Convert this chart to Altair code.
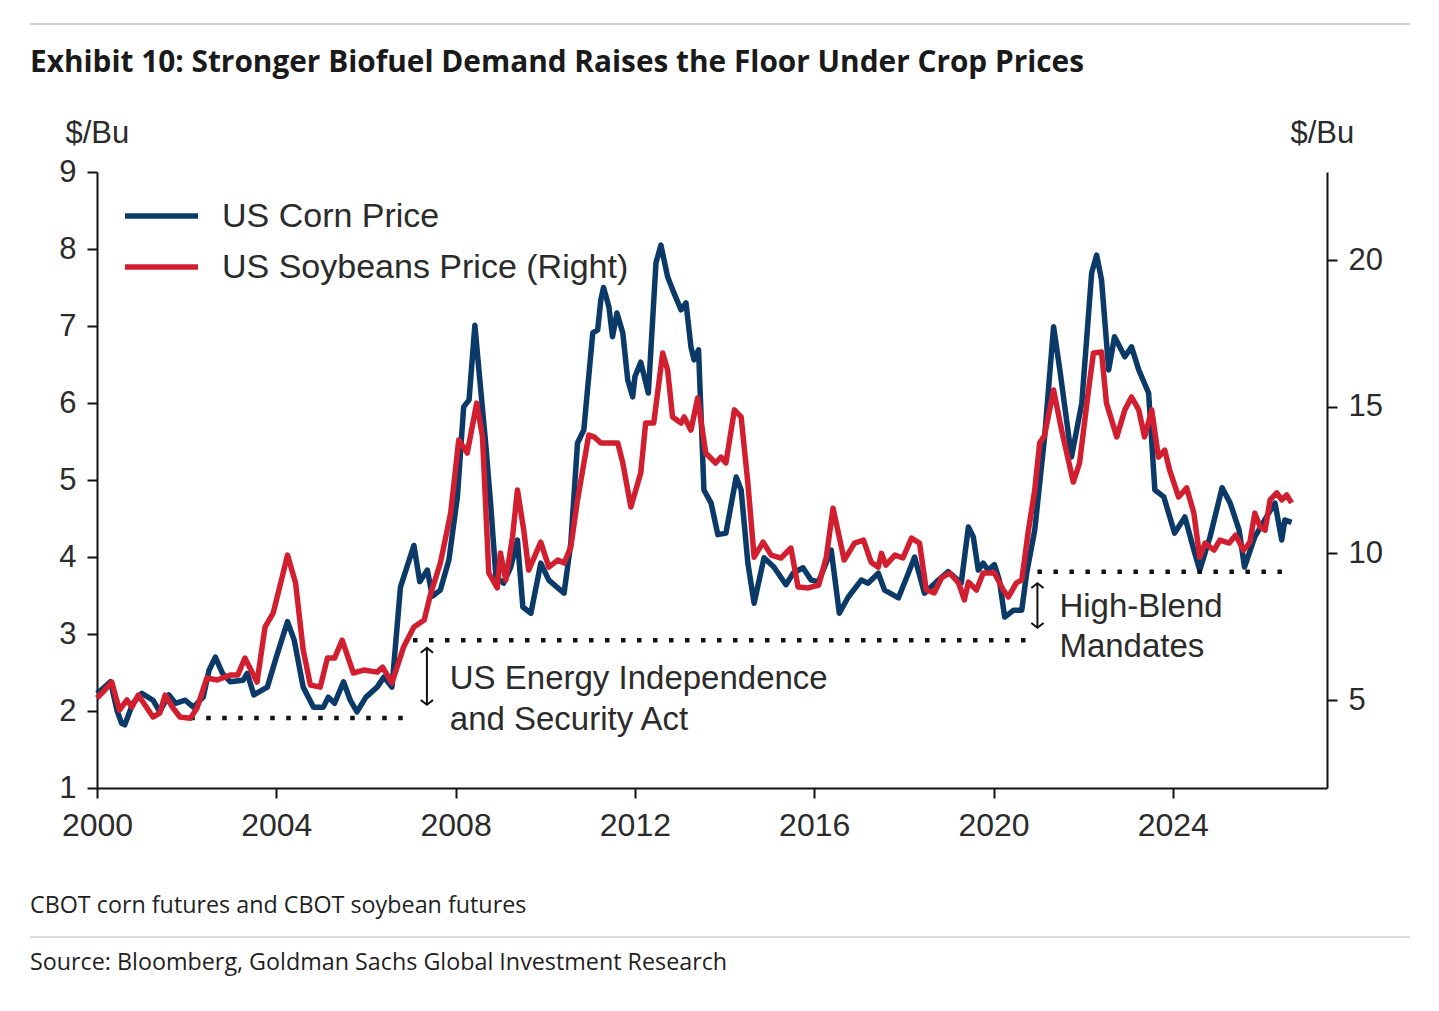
import altair as alt
import pandas as pd

# ---------------- data ----------------
corn_years = [2000.0, 2000.15, 2000.3, 2000.45, 2000.55, 2000.62, 2000.8, 2001.0, 2001.25, 2001.4,
              2001.6, 2001.75, 2001.97, 2002.15, 2002.37, 2002.5, 2002.64, 2002.8, 2002.97, 2003.26,
              2003.35, 2003.5, 2003.8, 2004.0, 2004.25, 2004.4, 2004.6, 2004.83, 2005.05, 2005.16,
              2005.3, 2005.5, 2005.65, 2005.8, 2006.0, 2006.25, 2006.4, 2006.58, 2006.77, 2007.07,
              2007.2, 2007.37, 2007.48, 2007.66, 2007.85, 2008.04, 2008.18, 2008.3, 2008.43, 2008.52,
              2008.67, 2008.78, 2008.9, 2009.07, 2009.23, 2009.38, 2009.5, 2009.68, 2009.9, 2010.08,
              2010.28, 2010.42, 2010.57, 2010.72, 2010.86, 2011.06, 2011.17, 2011.24, 2011.3, 2011.42,
              2011.5, 2011.6, 2011.73, 2011.84, 2011.95, 2012.0, 2012.13, 2012.3, 2012.47, 2012.58,
              2012.73, 2012.87, 2013.03, 2013.14, 2013.25, 2013.32, 2013.42, 2013.54, 2013.7, 2013.85,
              2014.03, 2014.26, 2014.37, 2014.52, 2014.66, 2014.88, 2015.1, 2015.37, 2015.53, 2015.75,
              2015.93, 2016.1, 2016.38, 2016.56, 2016.76, 2017.05, 2017.2, 2017.43, 2017.57, 2017.88,
              2018.1, 2018.24, 2018.46, 2018.77, 2018.99, 2019.28, 2019.44, 2019.55, 2019.66, 2019.77,
              2019.88, 2020.02, 2020.13, 2020.25, 2020.45, 2020.63, 2020.74, 2020.92, 2021.14, 2021.34,
              2021.48, 2021.74, 2021.97, 2022.19, 2022.3, 2022.41, 2022.57, 2022.7, 2022.93, 2023.08,
              2023.24, 2023.46, 2023.6, 2023.8, 2024.04, 2024.27, 2024.47, 2024.6, 2024.83, 2025.1,
              2025.28, 2025.48, 2025.6, 2025.83, 2026.14, 2026.28, 2026.43, 2026.5, 2026.65]
corn_values = [2.23, 2.30, 2.38, 2.00, 1.84, 1.82, 2.10, 2.23, 2.14, 1.99,
               2.21, 2.10, 2.14, 2.05, 2.18, 2.53, 2.70, 2.49, 2.38, 2.40,
               2.49, 2.21, 2.31, 2.70, 3.16, 2.92, 2.31, 2.05, 2.05, 2.18,
               2.10, 2.38, 2.14, 1.99, 2.18, 2.31, 2.44, 2.31, 3.61, 4.15,
               3.68, 3.83, 3.49, 3.57, 3.96, 4.78, 5.95, 6.04, 7.01, 6.43,
               5.48, 4.70, 3.74, 3.66, 3.87, 4.22, 3.35, 3.27, 3.92, 3.70,
               3.60, 3.53, 4.18, 5.48, 5.65, 6.91, 6.95, 7.34, 7.50, 7.25,
               6.86, 7.17, 6.91, 6.30, 6.08, 6.34, 6.53, 6.13, 7.82, 8.05,
               7.64, 7.43, 7.21, 7.30, 6.73, 6.56, 6.69, 4.87, 4.70, 4.29,
               4.31, 5.04, 4.87, 3.92, 3.40, 3.99, 3.87, 3.64, 3.79, 3.86,
               3.70, 3.68, 4.09, 3.27, 3.48, 3.70, 3.66, 3.79, 3.57, 3.47,
               3.79, 4.00, 3.53, 3.70, 3.81, 3.66, 4.39, 4.26, 3.83, 3.92,
               3.83, 3.90, 3.70, 3.22, 3.31, 3.31, 3.79, 4.35, 5.56, 6.99,
               6.43, 5.30, 6.00, 7.69, 7.92, 7.60, 6.43, 6.86, 6.60, 6.73,
               6.43, 6.13, 4.87, 4.78, 4.31, 4.52, 4.09, 3.83, 4.26, 4.90,
               4.70, 4.35, 3.87, 4.26, 4.57, 4.70, 4.22, 4.48, 4.45]

soy_years = [2000.0, 2000.15, 2000.33, 2000.5, 2000.67, 2000.78, 2000.92, 2001.1, 2001.25, 2001.4,
             2001.52, 2001.7, 2001.85, 2002.08, 2002.23, 2002.45, 2002.68, 2002.97, 2003.14, 2003.3,
             2003.57, 2003.75, 2003.93, 2004.1, 2004.25, 2004.43, 2004.6, 2004.76, 2004.98, 2005.14,
             2005.3, 2005.47, 2005.72, 2005.95, 2006.25, 2006.37, 2006.58, 2006.84, 2007.07, 2007.3,
             2007.44, 2007.66, 2007.89, 2008.07, 2008.26, 2008.47, 2008.6, 2008.74, 2008.93, 2009.0,
             2009.12, 2009.27, 2009.38, 2009.52, 2009.63, 2009.9, 2010.08, 2010.28, 2010.42, 2010.57,
             2010.72, 2010.97, 2011.1, 2011.24, 2011.62, 2011.73, 2011.91, 2012.13, 2012.24, 2012.42,
             2012.62, 2012.73, 2012.84, 2013.03, 2013.1, 2013.25, 2013.4, 2013.58, 2013.8, 2013.92,
             2014.03, 2014.22, 2014.37, 2014.52, 2014.66, 2014.86, 2015.04, 2015.26, 2015.48, 2015.64,
             2015.87, 2016.1, 2016.27, 2016.42, 2016.67, 2016.9, 2017.1, 2017.27, 2017.43, 2017.5,
             2017.6, 2017.8, 2017.98, 2018.17, 2018.35, 2018.5, 2018.68, 2018.84, 2019.02, 2019.22,
             2019.35, 2019.44, 2019.62, 2019.77, 2020.02, 2020.22, 2020.33, 2020.51, 2020.63, 2020.78,
             2020.92, 2021.03, 2021.14, 2021.34, 2021.52, 2021.78, 2021.92, 2022.12, 2022.23, 2022.41,
             2022.52, 2022.75, 2022.93, 2023.08, 2023.24, 2023.37, 2023.53, 2023.68, 2023.82, 2023.93,
             2024.13, 2024.31, 2024.47, 2024.6, 2024.72, 2024.92, 2025.05, 2025.26, 2025.4, 2025.58,
             2025.72, 2025.83, 2025.95, 2026.06, 2026.17, 2026.32, 2026.43, 2026.54, 2026.65]
soy_values = [5.07, 5.30, 5.61, 4.66, 5.00, 4.76, 5.17, 4.76, 4.42, 4.55,
              5.17, 4.72, 4.42, 4.38, 4.72, 5.75, 5.68, 5.85, 5.85, 6.43,
              5.61, 7.49, 7.96, 9.00, 9.94, 8.99, 6.70, 5.51, 5.44, 6.43,
              6.43, 7.04, 5.92, 6.02, 5.95, 6.12, 5.58, 6.81, 7.49, 7.73,
              8.60, 9.67, 11.37, 13.86, 13.42, 15.12, 13.97, 9.33, 8.82, 10.01,
              9.09, 10.56, 12.16, 10.79, 9.43, 10.38, 9.53, 9.77, 9.67, 10.21,
              11.82, 14.03, 13.96, 13.76, 13.76, 13.08, 11.58, 12.74, 14.44, 14.44,
              16.83, 16.25, 14.65, 14.44, 14.65, 14.20, 15.29, 13.42, 13.08, 13.28,
              13.08, 14.89, 14.65, 12.40, 9.87, 10.38, 9.94, 9.84, 10.18, 8.85,
              8.82, 8.92, 9.87, 11.54, 9.77, 10.35, 10.45, 9.70, 9.53, 10.00,
              9.60, 9.94, 9.84, 10.52, 10.35, 8.75, 8.65, 9.16, 9.33, 8.99,
              8.41, 9.02, 8.75, 9.33, 9.33, 8.75, 8.51, 8.99, 9.09, 10.79,
              12.16, 13.76, 14.03, 15.57, 14.20, 12.43, 13.08, 15.57, 16.83, 16.86,
              15.12, 13.97, 14.89, 15.33, 14.89, 13.97, 14.89, 13.28, 13.52, 12.84,
              11.92, 12.23, 11.37, 9.87, 10.35, 10.11, 10.45, 10.35, 10.62, 10.11,
              10.38, 11.37, 10.90, 10.79, 11.82, 12.06, 11.82, 11.99, 11.72]

series_names = ["US Corn Price", "US Soybeans Price (Right)"]
series_colors = ["#0B3A68", "#D21F30"]

x_ticks = [2000, 2004, 2008, 2012, 2016, 2020, 2024]
left_ticks = [1, 2, 3, 4, 5, 6, 7, 8, 9]
right_ticks = [5, 10, 15, 20]

# floor levels (in left-axis $/Bu) and the spans they cover
floor_start = [2002.08, 2007.05, 2020.98]
floor_end = [2006.85, 2020.95, 2026.45]
floor_level = [1.91, 2.92, 3.81]

# double arrows: year, top, bottom (left-axis units)
arrow_year = [2007.36, 2020.98]
arrow_top = [2.82, 3.66]
arrow_bottom = [2.08, 3.08]

note_lines = ["US Energy Independence", "and Security Act", "High-Blend", "Mandates"]
note_year = [2007.87, 2007.87, 2021.47, 2021.47]
note_level = [2.28, 1.75, 3.22, 2.70]

title_text = "Exhibit 10: Stronger Biofuel Demand Raises the Floor Under Crop Prices"
note_text = "CBOT corn futures and CBOT soybean futures"
source_text = "Source: Bloomberg, Goldman Sachs Global Investment Research"

# ---------------- chart ----------------
W, H = 1230, 616
FONT = "Liberation Sans, Arial, Helvetica, sans-serif"
TXT = "#2b2b2b"
INK = "#111111"

corn_df = pd.DataFrame({"year": corn_years, "price": corn_values})
soy_df = pd.DataFrame({"year": soy_years, "price": soy_values})
floors_df = pd.DataFrame({"year": floor_start, "x1": floor_end, "price": floor_level})
arrows_df = pd.DataFrame({"year": arrow_year, "price": arrow_top, "bottom": arrow_bottom})
arrows_bot_df = pd.DataFrame({"year": arrow_year, "price": arrow_bottom})
notes_df = pd.DataFrame({"year": note_year, "price": note_level, "label": note_lines})

x_scale = alt.Scale(domain=[2000, 2027.44], nice=False, zero=False)
yl_scale = alt.Scale(domain=[1, 9], nice=False, zero=False)
yr_scale = alt.Scale(domain=[2, 23], nice=False, zero=False)

x_axis = alt.Axis(values=x_ticks, format="d", title=None, labelPadding=12, labelFlush=False,
                  labelFontSize=32)
left_axis = alt.Axis(orient="left", values=left_ticks, title="$/Bu", titleAngle=0,
                     titleX=-32, titleY=-39, titleAlign="left", titleBaseline="middle",
                     labelPadding=11, labelFlush=False)
right_axis = alt.Axis(orient="right", values=right_ticks, title="$/Bu", titleAngle=0,
                      titleX=-37, titleY=-39, titleAlign="left", titleBaseline="middle",
                      labelPadding=11, labelFlush=False)

X = alt.X("year:Q", scale=x_scale, axis=x_axis)
YL = alt.Y("price:Q", scale=yl_scale, axis=left_axis)

corn_line = alt.Chart(corn_df).mark_line(color=series_colors[0], strokeWidth=5.5,
                                        strokeJoin="round").encode(x=X, y=YL)

floors = alt.Chart(floors_df).mark_rule(color=INK, strokeWidth=4.5,
                                        strokeDash=[4.5, 11.5]).encode(x=X, x2="x1:Q", y=YL)

arrow_shaft = alt.Chart(arrows_df).mark_rule(color=INK, strokeWidth=2).encode(
    x=X, y=YL, y2="bottom:Q")
arrow_head_top = alt.Chart(arrows_df).mark_point(
    shape="M-1,0.8L0,0L1,0.8", filled=False, color=INK, strokeWidth=2, size=150, opacity=1
).encode(x=X, y=YL)
arrow_head_bottom = alt.Chart(arrows_bot_df).mark_point(
    shape="M-1,-0.8L0,0L1,-0.8", filled=False, color=INK, strokeWidth=2, size=150, opacity=1
).encode(x=X, y=YL)

notes = alt.Chart(notes_df).mark_text(align="left", baseline="alphabetic", font=FONT,
                                      fontSize=33, color=TXT).encode(x=X, y=YL, text="label:N")

left_group = alt.layer(corn_line, floors, arrow_shaft, arrow_head_top, arrow_head_bottom, notes)

soy_line = alt.Chart(soy_df).mark_line(color=series_colors[1], strokeWidth=5.5,
                                      strokeJoin="round").encode(
    x=X,
    y=alt.Y("price:Q", scale=yr_scale, axis=right_axis),
)

# legend (drawn by hand so the row spacing matches)
legend_layers = []
for i, (name, col) in enumerate(zip(series_names, series_colors)):
    ypix = 44 + 51 * i
    one = pd.DataFrame({"label": [name]})
    legend_layers.append(
        alt.Chart(one).mark_rule(color=col, strokeWidth=5.5).encode(
            x=alt.value(28), x2=alt.value(101), y=alt.value(ypix))
    )
    legend_layers.append(
        alt.Chart(one).mark_text(align="left", baseline="middle", font=FONT, fontSize=34,
                                 color=TXT).encode(
            x=alt.value(125), y=alt.value(ypix + 1), text="label:N")
    )

# page furniture: title, rules, footnotes
frame_df = pd.DataFrame({"k": [0]})
top_rule = alt.Chart(frame_df).mark_rule(color="#bdbdbd", strokeWidth=1.5).encode(
    x=alt.value(-67), x2=alt.value(1313), y=alt.value(-148))
mid_rule = alt.Chart(frame_df).mark_rule(color="#cfcfcf", strokeWidth=1.5).encode(
    x=alt.value(-67), x2=alt.value(1313), y=alt.value(765))
title = alt.Chart(pd.DataFrame({"t": [title_text]})).mark_text(
    align="left", baseline="alphabetic", font="Open Sans", fontWeight="bold",
    fontSize=29.8, color="#1a1a1a").encode(x=alt.value(-67), y=alt.value(-100), text="t:N")
note = alt.Chart(pd.DataFrame({"t": [note_text]})).mark_text(
    align="left", baseline="alphabetic", font="Open Sans", fontSize=23.3,
    color="#1f1f1f").encode(x=alt.value(-67), y=alt.value(741), text="t:N")
source = alt.Chart(pd.DataFrame({"t": [source_text]})).mark_text(
    align="left", baseline="alphabetic", font="Open Sans", fontSize=23.3,
    color="#1f1f1f").encode(x=alt.value(-67), y=alt.value(798), text="t:N")

chart = alt.layer(left_group, soy_line, *legend_layers, top_rule, mid_rule, title, note, source
                  ).resolve_scale(y="independent").properties(
    width=W, height=H,
    autosize=alt.AutoSizeParams(type="none"),
    padding={"left": 89, "top": 164, "right": 100, "bottom": 200},
    background="white",
).configure_view(stroke=None).configure_axis(
    grid=False, domainColor=INK, domainWidth=2, tickColor=INK, tickWidth=2,
    tickSize=10, labelFont=FONT, labelFontSize=31, labelColor=TXT,
    titleFont=FONT, titleFontSize=31, titleFontWeight="normal", titleColor=TXT,
)

chart.save("out.html", embed_options={"renderer": "svg", "actions": False})
